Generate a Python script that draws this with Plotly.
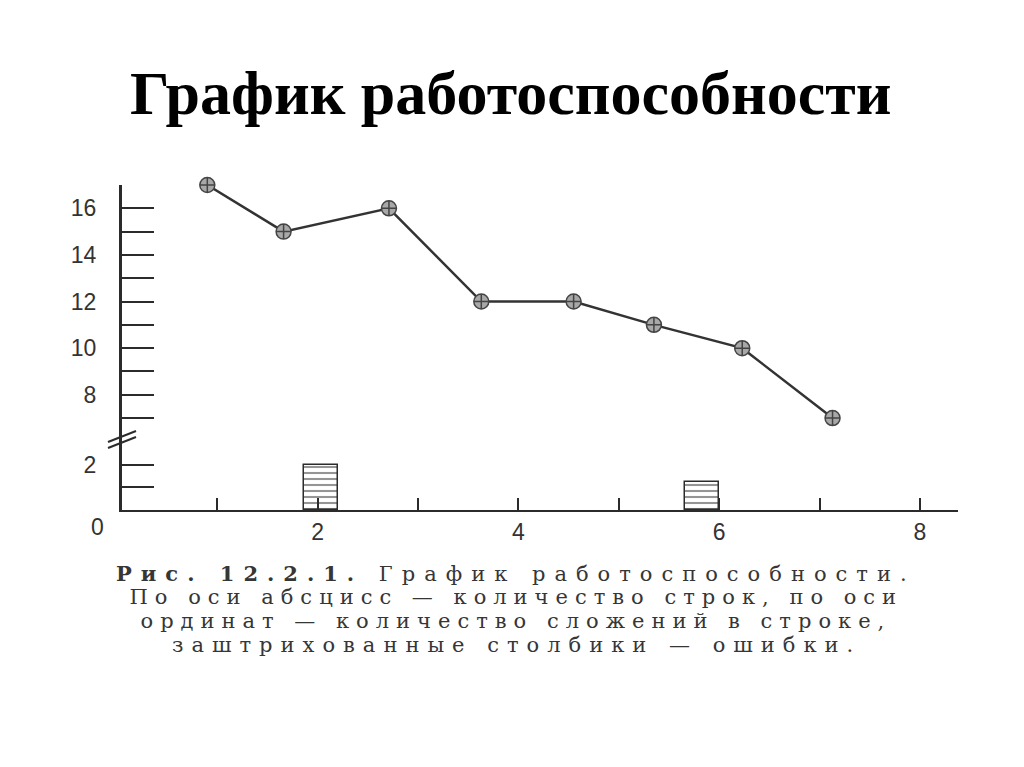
import plotly.graph_objects as go

# ---- data ----
line_x = [0.9, 1.66, 2.71, 3.63, 4.55, 5.35, 6.23, 7.13]
line_y = [17, 15, 16, 12, 12, 11, 10, 7]
bar_x = [2.03, 5.83]
bar_y = [2.0, 1.25]
x_tickvals = [1, 2, 3, 4, 5, 6, 7, 8]
x_ticktext = ["", "2", "", "4", "", "6", "", "8"]
y_low_tickvals = [1, 2]
y_low_ticktext = ["", "2"]
y_up_tickvals = [7, 8, 9, 10, 11, 12, 13, 14, 15, 16, 17]
y_up_ticktext = ["", "8", "", "10", "", "12", "", "14", "", "16", ""]
title_text = "График работоспособности"
caption_lines = [
    "<b>Рис. 12.2.1.</b> График работоспособности.",
    "По оси абсцисс — количество строк, по оси",
    "ординат — количество сложений в строке,",
    "заштрихованные столбики — ошибки.",
]

W, H = 1024, 767
OX, OY = 8, 8  # page body margin
def px_x(p): return (p - OX) / W
def px_y(p): return 1 - (p - OY) / H

ink = "#2b2b2b"
fig = go.Figure()

fig.add_trace(go.Bar(
    x=bar_x, y=bar_y, width=0.34, xaxis="x", yaxis="y",
    marker=dict(color="white", line=dict(color=ink, width=1.5),
                pattern=dict(shape="-", fgcolor=ink, bgcolor="white", size=6, solidity=0.35)),
    showlegend=False,
))
fig.add_trace(go.Scatter(
    x=line_x, y=line_y, xaxis="x", yaxis="y2", mode="lines+markers",
    line=dict(color="#333333", width=2.5),
    marker=dict(symbol="circle-cross", size=15, color="#a8a8a8",
                line=dict(color="#444444", width=1.5)),
    cliponaxis=False, showlegend=False,
))

tickfont = dict(family="Liberation Sans, Arial, sans-serif", size=23, color="#333333")
fig.update_layout(
    width=W, height=H, margin=dict(l=0, r=0, t=0, b=0),
    paper_bgcolor="white", plot_bgcolor="white",
    xaxis=dict(domain=[px_x(122), px_x(958)], range=[0.05, 8.38],
               tickvals=x_tickvals, ticktext=x_ticktext, ticks="inside", ticklen=12,
               tickwidth=2, tickcolor=ink, showline=True, linecolor=ink, linewidth=2,
               showgrid=False, zeroline=False, tickfont=tickfont, anchor="y"),
    yaxis=dict(domain=[px_y(510), px_y(440)], range=[0, 3.1],
               tickvals=y_low_tickvals, ticktext=y_low_ticktext, ticks="inside", ticklen=32,
               tickwidth=1.5, tickcolor=ink, showline=True, linecolor=ink, linewidth=3,
               showgrid=False, zeroline=False, tickfont=tickfont, ticklabelstandoff=18,
               anchor="x"),
    yaxis2=dict(domain=[px_y(440), px_y(185)], range=[6.06, 17],
                tickvals=y_up_tickvals, ticktext=y_up_ticktext, ticks="inside", ticklen=32,
                tickwidth=1.5, tickcolor=ink, showline=True, linecolor=ink, linewidth=3,
                showgrid=False, zeroline=False, tickfont=tickfont, ticklabelstandoff=18,
                anchor="x"),
    bargap=0,
)

# axis break mark
for dy in (0, 6):
    fig.add_shape(type="line", xref="paper", yref="paper",
                  x0=px_x(108), y0=px_y(448 - dy), x1=px_x(136), y1=px_y(437 - dy),
                  line=dict(color=ink, width=2))

# "0" origin label
fig.add_annotation(text="0", xref="paper", yref="paper", x=px_x(97), y=px_y(527),
                   showarrow=False, font=tickfont, xanchor="center", yanchor="middle")

# title
fig.add_annotation(text="<b>" + title_text + "</b>", xref="paper", yref="paper",
                   x=px_x(511), y=px_y(93), showarrow=False, xanchor="center", yanchor="middle",
                   font=dict(family="Liberation Serif, Times New Roman, serif", size=62, color="black"))

# caption
for i, line in enumerate(caption_lines):
    fig.add_annotation(text=line, xref="paper", yref="paper",
                       x=px_x(516), y=px_y(573 + 24 * i), showarrow=False,
                       xanchor="center", yanchor="middle",
                       font=dict(family="DejaVu Serif, serif", size=21, color="#363636"))

post = """
var gd = document.getElementById('{plot_id}');
var sp = ['9px', '7px', '7px', '8px'];
var k = 0;
gd.querySelectorAll('.annotation-text').forEach(function(t){
  var ff = (t.style && t.style.fontFamily) || '';
  if (ff.indexOf('DejaVu Serif') !== -1) {
    var s = sp[Math.min(k, sp.length - 1)];
    t.style.letterSpacing = s;
    t.setAttribute('letter-spacing', s);
    k += 1;
  }
});
"""
fig.write_html("out.html", post_script=post)
